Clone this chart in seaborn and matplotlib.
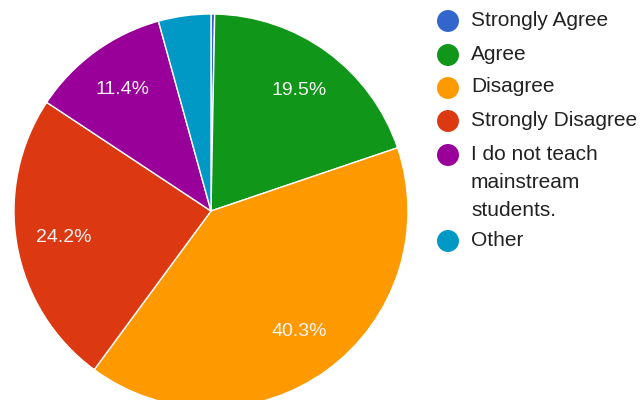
import matplotlib
matplotlib.use("Agg")
import matplotlib.pyplot as plt
import seaborn as sns

# survey answers, percent of responses
labels = ["Strongly Agree", "Agree", "Disagree", "Strongly Disagree",
          "I do not teach mainstream students.", "Other"]
legend_text = ["Strongly Agree", "Agree", "Disagree", "Strongly Disagree",
               "I do not teach\nmainstream\nstudents.", "Other"]
values = [0.3, 19.5, 40.3, 24.2, 11.4, 4.3]
colors = ["#3366cc", "#109618", "#ff9900", "#dc3912", "#990099", "#0099c6"]

sns.set_theme(style="white")
plt.rcParams['font.family'] = ['Liberation Sans', 'DejaVu Sans']

fig = plt.figure(figsize=(6.44, 4.0), dpi=100)
ax = fig.add_axes([14 / 644, -8 / 400, 394 / 644, 394 / 400])

def fmt(p):
    return f"{p:.1f}%" if p > 5 else ""

wedges, texts, autotexts = ax.pie(
    values, colors=sns.color_palette(colors), startangle=90, counterclock=False,
    autopct=fmt, pctdistance=0.76,
    wedgeprops=dict(edgecolor="white", linewidth=1),
    textprops=dict(color="#f4f4f4", fontsize=14))
ax.set_xlim(-1, 1)
ax.set_ylim(-1, 1)
ax.set_aspect("equal")

# legend drawn by hand so the wrapped label lines up with its marker
lg = fig.add_axes([0, 0, 1, 1])
lg.set_xlim(0, 644)
lg.set_ylim(400, 0)
lg.axis("off")
rows = [21, 55, 88, 121, 155, 241]
for y, txt, c in zip(rows, legend_text, colors):
    lg.scatter([448], [y], s=250, color=c, edgecolor="none")
    lg.text(471, y - 10.5, txt, fontsize=15, color="#222222", va="top",
            ha="left", linespacing=1.6)

fig.savefig("out.png", dpi=100)
